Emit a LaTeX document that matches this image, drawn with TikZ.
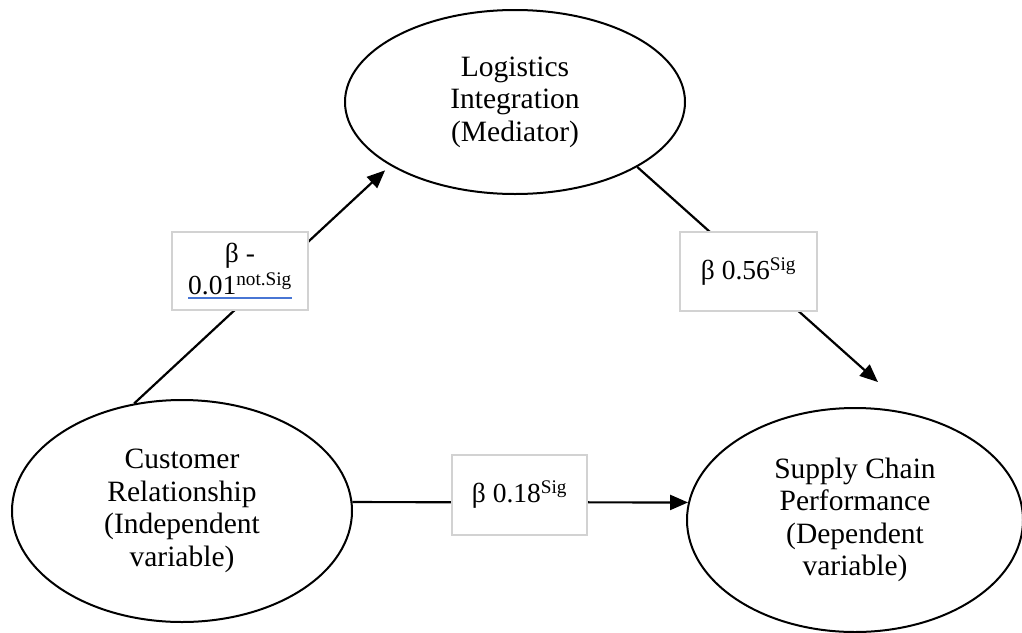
\documentclass[tikz,border=0pt]{standalone}
\usepackage{fontspec}
\setmainfont{Liberation Serif}
\usepackage{xcolor}
\usetikzlibrary{arrows.meta,shapes.geometric}
\definecolor{boxgray}{RGB}{210,210,210}
\definecolor{ulblue}{RGB}{72,118,212}
\newcommand{\blueul}[1]{\setbox0\hbox{#1}\rlap{\color{ulblue}\rule[-4pt]{\wd0}{1.6pt}}\box0}
\tikzset{
  var/.style={draw, ellipse, line width=2pt, inner sep=0pt, align=center,
    font=\fontsize{29.5}{32.5}\selectfont},
  coef/.style={draw=boxgray, fill=white, line width=2pt, inner sep=0pt, align=center,
    font=\fontsize{27.5}{32}\selectfont},
  path/.style={line width=2.2pt, -{Triangle[length=18pt,width=15pt]}}
}
\begin{document}
\begin{tikzpicture}[x=1pt, y=1pt, yscale=-1]
\useasboundingbox (0,0) rectangle (1022,632);
 \node[var, minimum width=340pt, minimum height=184pt] (li) at (515,102) {Logistics\\Integration\\(Mediator)};
 \node[var, minimum width=340pt, minimum height=222pt] (cr) at (182,511) {Customer\\Relationship\\(Independent\\variable)};
 \node[var, minimum width=336pt, minimum height=224pt] (sc) at (855,520) {Supply Chain\\Performance\\(Dependent\\variable)};
 \draw[path, shorten >=7pt] (cr.114) -- (li.207);
 \draw[path, shorten >=48pt] (li.-28) -- (sc.61);
 \draw[path] (cr.3) -- (sc.174);
 \node[coef, minimum width=136pt, minimum height=78pt] (b1) at (240,271) {β -\\\blueul{0.01\textsuperscript{not.Sig}}};
 \node[coef, minimum width=137pt, minimum height=79pt] (b2) at (748.5,271.5) {β 0.56\textsuperscript{Sig}};
 \node[coef, minimum width=135pt, minimum height=80pt] (b3) at (519.5,495) {β 0.18\textsuperscript{Sig}};
\end{tikzpicture}
\end{document}
